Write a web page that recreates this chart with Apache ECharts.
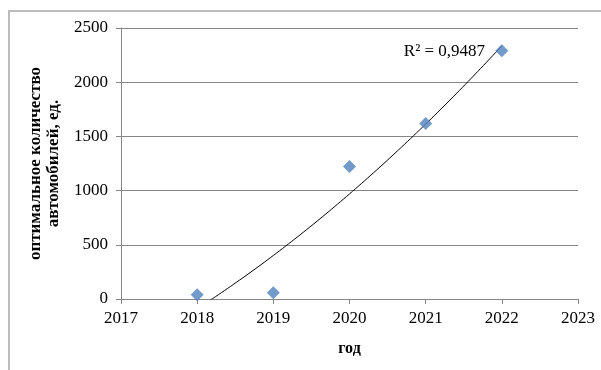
<!DOCTYPE html>
<html>
<head>
<meta charset="utf-8">
<script src="https://cdn.jsdelivr.net/npm/echarts@6/dist/echarts.min.js"></script>
<style>
html,body{margin:0;padding:0;background:#fff;}
#chart{width:601px;height:370px;}
</style>
</head>
<body>
<div id="chart"></div>
<script>
// Data
var years = [2018, 2019, 2020, 2021, 2022];
var values = [40, 58, 1222, 1620, 2290];
var xTicks = [2017, 2018, 2019, 2020, 2021, 2022, 2023];
var yTicks = [0, 500, 1000, 1500, 2000, 2500];
var r2Label = 'R² = 0,9487';
var yTitleLines = ['оптимальное количество', 'автомобилей, ед.'];
var xTitle = 'год';

// Polynomial (order 2) least squares trend line computed from the data
function polyFit2(xs, ys) {
  var n = xs.length, s = [0,0,0,0,0], t = [0,0,0];
  for (var i = 0; i < n; i++) {
    var x = xs[i] - 2020, p = 1;
    for (var k = 0; k < 5; k++) { s[k] += p; if (k < 3) t[k] += p * ys[i]; p *= x; }
  }
  var M = [[s[0],s[1],s[2],t[0]],[s[1],s[2],s[3],t[1]],[s[2],s[3],s[4],t[2]]];
  for (var c = 0; c < 3; c++) {
    for (var r = c + 1; r < 3; r++) {
      var f = M[r][c] / M[c][c];
      for (var k2 = c; k2 < 4; k2++) M[r][k2] -= f * M[c][k2];
    }
  }
  var b = [0,0,0];
  for (var r2 = 2; r2 >= 0; r2--) {
    var sum = M[r2][3];
    for (var k3 = r2 + 1; k3 < 3; k3++) sum -= M[r2][k3] * b[k3];
    b[r2] = sum / M[r2][r2];
  }
  return b;
}
var coef = polyFit2(years, values);
var trend = [];
for (var xv = years[0]; xv <= years[years.length - 1] + 1e-9; xv += 0.02) {
  var dx = xv - 2020;
  trend.push([xv, coef[0] + coef[1] * dx + coef[2] * dx * dx]);
}

var serif = '"Liberation Serif", "Times New Roman", serif';
var chart = echarts.init(document.getElementById('chart'), null, {renderer: 'canvas'});
chart.setOption({
  animation: false,
  backgroundColor: '#fff',
  grid: {left: 121, right: 23, top: 28, bottom: 71, containLabel: false},
  xAxis: {
    type: 'value', min: 2017, max: 2023, interval: 1,
    axisLine: {show: true, lineStyle: {color: '#868686', width: 1}},
    axisTick: {show: true, length: 5, lineStyle: {color: '#868686'}},
    axisLabel: {color: '#000', fontFamily: serif, fontSize: 17, margin: 11,
      formatter: function (v) { return String(v); }},
    splitLine: {show: false},
    name: xTitle, nameLocation: 'middle', nameGap: 42,
    nameTextStyle: {color: '#000', fontFamily: serif, fontSize: 16, fontWeight: 'bold'}
  },
  yAxis: {
    type: 'value', min: 0, max: 2500, interval: 500,
    axisLine: {show: true, lineStyle: {color: '#868686', width: 1}},
    axisTick: {show: true, length: 5, lineStyle: {color: '#868686'}},
    axisLabel: {color: '#000', fontFamily: serif, fontSize: 17, margin: 13,
      formatter: function (v) { return String(v); }},
    splitLine: {show: true, lineStyle: {color: '#868686', width: 1}},
    name: yTitleLines.join('\n'), nameLocation: 'middle', nameGap: 50, nameRotate: 90,
    nameTextStyle: {color: '#000', fontFamily: serif, fontSize: 17, fontWeight: 'bold', lineHeight: 18, align: 'center'}
  },
  graphic: [{
    type: 'polyline', z: -10,
    shape: {points: [[9, 400], [9, 11], [700, 11]]},
    style: {fill: null, stroke: '#bcbcbc', lineWidth: 2}
  }],
  series: [{
    type: 'line', data: trend, showSymbol: false, symbol: 'none', clip: true,
    lineStyle: {color: '#000', width: 1}, z: 2, silent: true,
    endLabel: {show: true, formatter: r2Label, color: '#000', fontFamily: serif, fontSize: 17,
      offset: [-106, 6], align: 'left'}
  }, {
    type: 'scatter', data: years.map(function (y, i) { return [y, values[i]]; }),
    symbol: 'diamond', symbolSize: [13, 13],
    itemStyle: {color: '#4f81bd'}, z: 3
  }]
});
</script>
</body>
</html>
